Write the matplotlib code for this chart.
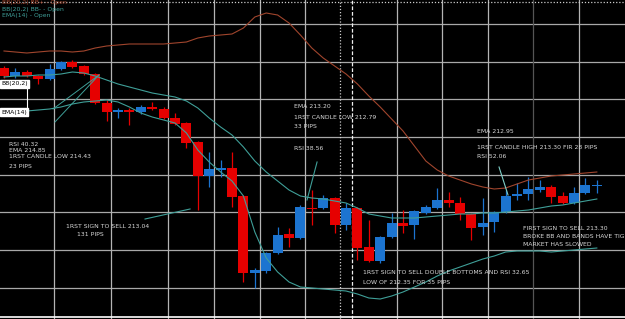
import matplotlib.pyplot as plt

# bar data (oldest bar first)
opens = [215.32, 215.24, 215.28, 215.24, 215.21, 215.31, 215.38, 215.34, 215.26, 214.97,
         214.88, 214.90, 214.88, 214.93, 214.91, 214.82, 214.77, 214.58, 214.24, 214.30,
         214.32, 214.04, 213.27, 213.29, 213.47, 213.66, 213.62, 213.92, 213.92, 214.02,
         213.75, 213.92, 213.53, 213.39, 213.63, 213.77, 213.75, 213.87, 213.92, 214.00,
         213.97, 213.86, 213.73, 213.78, 213.88, 214.04, 214.06, 214.10, 214.13, 214.04,
         213.97, 214.07, 214.14]
highs = [215.34, 215.32, 215.30, 215.25, 215.36, 215.39, 215.40, 215.35, 215.27, 215.00,
         214.92, 214.92, 214.95, 214.98, 214.93, 214.87, 214.78, 214.59, 214.48, 214.40,
         214.48, 214.05, 213.32, 213.48, 213.73, 213.72, 213.95, 214.10, 214.05, 214.03,
         213.97, 213.93, 213.80, 213.64, 213.87, 213.90, 213.90, 213.95, 214.12, 214.08,
         214.03, 213.87, 214.02, 213.89, 214.10, 214.17, 214.23, 214.20, 214.15, 214.08,
         214.13, 214.22, 214.20]
lows = [215.22, 215.22, 215.23, 215.16, 215.20, 215.30, 215.32, 215.25, 214.96, 214.79,
        214.82, 214.75, 214.86, 214.90, 214.81, 214.75, 214.52, 213.90, 214.13, 214.23,
        213.93, 213.18, 213.12, 213.27, 213.46, 213.53, 213.61, 213.75, 213.91, 213.67,
        213.70, 213.40, 213.38, 213.37, 213.62, 213.67, 213.61, 213.86, 213.91, 213.93,
        213.80, 213.60, 213.65, 213.68, 213.87, 214.00, 214.00, 214.08, 213.97, 213.96,
        213.96, 214.06, 214.07]
closes = [215.24, 215.28, 215.24, 215.21, 215.31, 215.38, 215.33, 215.26, 214.97, 214.88,
          214.90, 214.88, 214.93, 214.91, 214.82, 214.76, 214.57, 214.24, 214.31, 214.32,
          214.03, 213.27, 213.30, 213.47, 213.65, 213.62, 213.93, 213.91, 214.02, 213.75,
          213.92, 213.52, 213.39, 213.63, 213.77, 213.74, 213.89, 213.93, 214.00, 213.97,
          213.86, 213.72, 213.77, 213.88, 214.04, 214.06, 214.11, 214.13, 214.03, 213.97,
          214.07, 214.15, 214.15]

# indicators
bb_upper = [215.49, 215.48, 215.47, 215.48, 215.49, 215.49, 215.48, 215.49, 215.52, 215.54,
            215.55, 215.56, 215.56, 215.56, 215.56, 215.57, 215.58, 215.62, 215.64, 215.65,
            215.66, 215.72, 215.83, 215.87, 215.85, 215.77, 215.65, 215.52, 215.42, 215.34,
            215.26, 215.16, 215.04, 214.93, 214.81, 214.69, 214.54, 214.39, 214.30, 214.24,
            214.20, 214.16, 214.13, 214.11, 214.12, 214.16, 214.20, 214.22, 214.24, 214.25,
            214.26, 214.27, 214.28]
ema14 = [215.23, 215.24, 215.24, 215.25, 215.25, 215.26, 215.28, 215.27, 215.24, 215.20,
         215.16, 215.13, 215.10, 215.07, 215.05, 215.03, 214.99, 214.92, 214.82, 214.73,
         214.65, 214.53, 214.39, 214.28, 214.19, 214.10, 214.04, 214.02, 214.01, 213.99,
         213.97, 213.92, 213.86, 213.84, 213.82, 213.82, 213.82, 213.83, 213.84, 213.85,
         213.86, 213.86, 213.87, 213.87, 213.88, 213.89, 213.90, 213.92, 213.94, 213.95,
         213.97, 213.99, 214.01]
bb_lower = [214.88, 214.88, 214.89, 214.90, 214.91, 214.93, 214.96, 214.98, 214.99, 215.00,
            214.98, 214.93, 214.87, 214.83, 214.80, 214.77, 214.67, 214.50, 214.38, 214.28,
            214.19, 214.04, 213.68, 213.42, 213.28, 213.18, 213.13, 213.12, 213.11, 213.10,
            213.09, 213.06, 213.02, 213.01, 213.04, 213.08, 213.13, 213.18, 213.24, 213.29,
            213.33, 213.37, 213.41, 213.44, 213.48, 213.49, 213.49, 213.49, 213.48, 213.49,
            213.50, 213.51, 213.52]

price_grid = [215.76, 215.383, 215.007, 214.63, 214.253, 213.876, 213.50, 213.123]
time_grid = [4.39, 9.39, 14.39, 18.42, 22.46, 26.40, 34.47, 38.42, 42.46, 46.40, 50.44]

RED = '#e60000'
BLUE = '#1c74d0'
BROWN = '#a0452d'
TEAL = '#3f9f98'
TXT = '#d8d8d8'

fig = plt.figure(figsize=(6.25, 3.19), dpi=100)
fig.patch.set_facecolor('black')
ax = fig.add_axes([0, 0, 1, 1])
ax.set_facecolor('black')
ax.set_xlim(-0.351, 54.47)
ax.set_ylim(212.81, 216.0)
ax.axis('off')

# grid
for p in price_grid:
    ax.axhline(p, color='#a8a8a8', lw=0.9, zorder=1)
for t in time_grid:
    ax.axvline(t, color='#555555' if t == 46.40 else '#b4b4b4', lw=0.9, zorder=1)
ax.axvline(29.47, color='#cccccc', lw=0.9, ls=(0, (1, 1.5)), zorder=1)
ax.axvline(30.53, color='#eeeeee', lw=0.9, ls=(0, (3, 1.5)), zorder=1)
ax.axhline(215.985, color='#cccccc', lw=0.9, ls=(0, (1, 1.5)), zorder=1)
ax.axhline(212.83, color='white', lw=1.2, zorder=1)

# candles
x = list(range(len(opens)))
for i in x:
    up = closes[i] >= opens[i]
    c = BLUE if up else RED
    ax.vlines(i, lows[i], highs[i], color=c, lw=0.9, zorder=2)
    h = max(abs(closes[i] - opens[i]), 0.012)
    ax.bar(i, h, bottom=min(opens[i], closes[i]), width=0.88, color=c, zorder=3)

# indicator lines
ax.plot(x, bb_upper, color=BROWN, lw=0.8, zorder=4)
ax.plot(x, ema14, color=TEAL, lw=0.8, zorder=4)
ax.plot(x, bb_lower, color=TEAL, lw=0.8, zorder=4)

# trend / annotation lines
ax.plot([4.30, 8.33], [214.91, 215.25], color=TEAL, lw=0.7, zorder=4)
ax.plot([4.47, 8.33], [214.78, 215.25], color=TEAL, lw=0.7, zorder=4)
ax.plot([12.37, 16.32], [213.81, 213.91], color=TEAL, lw=0.8, zorder=4)
ax.plot([26.58, 27.46], [214.00, 214.38], color=TEAL, lw=0.8, zorder=4)
ax.plot([43.42, 44.21], [214.33, 214.05], color='#7fd0c8', lw=0.8, zorder=4)


def put(px, py, s, color=TXT, **kw):
    ax.text(px / 625, 1 - py / 319, s, transform=ax.transAxes, ha='left', va='center',
            fontsize=4.4, color=color, zorder=6, **kw)


put(2, 2.5, 'BB(20,2) BB+ - Open', color=BROWN)
put(2, 9.5, 'BB(20,2) BB- - Open', color=TEAL)
put(2, 15.5, 'EMA(14) - Open', color=TEAL)

box = dict(facecolor='white', edgecolor='white', pad=0.8)
put(1, 84, 'BB(20,2)', color='black', bbox=box)
put(1, 112, 'EMA(14)', color='black', bbox=box)
ax.plot([2.0, 2.0], [214.87, 215.13], color='white', lw=0.8, zorder=5)

put(9, 144, 'RSI 40.32')
put(9, 150, 'EMA 214.85')
put(9, 156, '1RST CANDLE LOW 214.43')
put(9, 166, '23 PIPS')

put(294, 106, 'EMA 213.20')
put(294, 118, '1RST CANDLE LOW 212.79')
put(294, 126, '33 PIPS')
put(294, 149, 'RSI 38.56')

put(477, 132, 'EMA 212.95')
put(477, 147, '1RST CANDLE HIGH 213.30 FIR 28 PIPS')
put(477, 156, 'RSI 52.06')

put(66, 227, '1RST SIGN TO SELL 213.04')
put(77, 235, '131 PIPS')

put(363, 273, '1RST SIGN TO SELL DOUBLE BOTTOMS AND RSI 32.65')
put(363, 282, 'LOW OF 212.35 FOR 35 PIPS')

put(523, 228, 'FIRST SIGN TO SELL 213.30')
put(523, 237, 'BROKE BB AND BANDS HAVE TIGHTENED')
put(523, 245, 'MARKET HAS SLOWED')

fig.savefig('out.png', dpi=100, facecolor='black')
